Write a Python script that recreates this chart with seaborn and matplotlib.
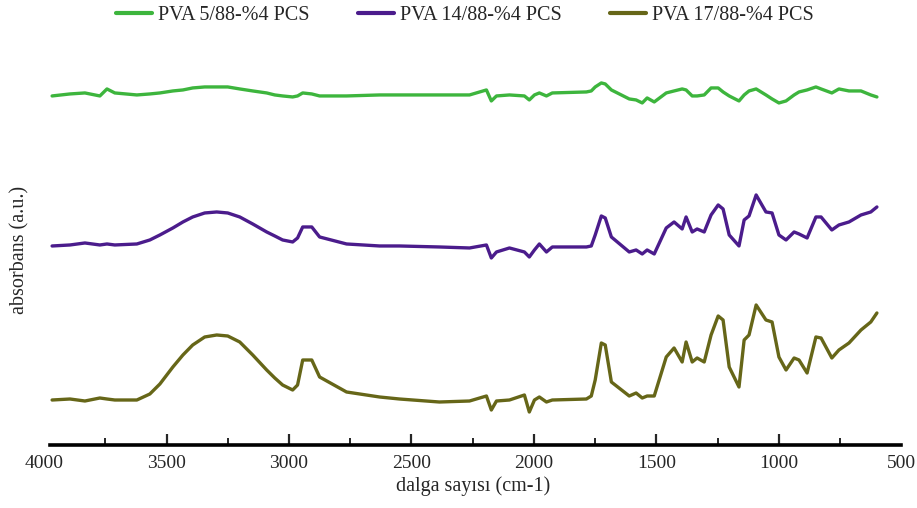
import numpy as np
import pandas as pd
import seaborn as sns
import matplotlib.pyplot as plt
from matplotlib.ticker import MultipleLocator

# wavenumber grid (cm-1)
wavenumber = [3967, 3894, 3833, 3772, 3743, 3711, 3621, 3568, 3527, 3474,
              3433, 3393, 3344, 3295, 3250, 3201, 3148, 3091, 3058, 3026,
              2985, 2965, 2944, 2907, 2875, 2765, 2630, 2549, 2386, 2263,
              2194, 2174, 2153, 2100, 2039, 2019, 1998, 1978, 1949, 1925,
              1786, 1766, 1750, 1725, 1709, 1684, 1611, 1583, 1558, 1538,
              1509, 1460, 1428, 1395, 1379, 1354, 1334, 1305, 1277, 1248,
              1228, 1203, 1163, 1142, 1122, 1093, 1053, 1028, 1000, 971,
              938, 918, 885, 849, 828, 784, 755, 714, 665, 625,
              600]

# stacked absorbance (a.u., offset spectra)
pva_5 = [3.54, 3.56, 3.57, 3.54, 3.61, 3.57, 3.55, 3.56, 3.57, 3.59,
         3.60, 3.62, 3.63, 3.63, 3.63, 3.61, 3.59, 3.57, 3.55, 3.54,
         3.53, 3.54, 3.57, 3.56, 3.54, 3.54, 3.55, 3.55, 3.55, 3.55,
         3.60, 3.49, 3.54, 3.55, 3.54, 3.50, 3.55, 3.57, 3.54, 3.57,
         3.58, 3.59, 3.63, 3.67, 3.66, 3.60, 3.51, 3.50, 3.47, 3.52,
         3.48, 3.57, 3.59, 3.61, 3.60, 3.54, 3.54, 3.55, 3.62, 3.62,
         3.58, 3.54, 3.49, 3.55, 3.59, 3.61, 3.55, 3.51, 3.47, 3.49,
         3.55, 3.58, 3.60, 3.63, 3.61, 3.57, 3.61, 3.59, 3.59, 3.55,
         3.53]

pva_14 = [2.04, 2.05, 2.07, 2.05, 2.06, 2.05, 2.06, 2.10, 2.15, 2.22,
          2.28, 2.33, 2.37, 2.38, 2.37, 2.33, 2.26, 2.18, 2.14, 2.10,
          2.08, 2.12, 2.23, 2.23, 2.13, 2.06, 2.04, 2.04, 2.03, 2.02,
          2.05, 1.92, 1.98, 2.02, 1.98, 1.93, 2.00, 2.06, 1.98, 2.03,
          2.03, 2.04, 2.15, 2.34, 2.32, 2.13, 1.98, 2.00, 1.96, 2.00,
          1.96, 2.22, 2.28, 2.21, 2.33, 2.18, 2.21, 2.18, 2.35, 2.45,
          2.41, 2.15, 2.04, 2.30, 2.34, 2.55, 2.38, 2.37, 2.15, 2.10,
          2.18, 2.16, 2.12, 2.33, 2.33, 2.20, 2.25, 2.28, 2.35, 2.38,
          2.43]

pva_17 = [0.50, 0.51, 0.49, 0.52, 0.51, 0.50, 0.50, 0.56, 0.66, 0.83,
          0.95, 1.05, 1.13, 1.15, 1.14, 1.08, 0.95, 0.80, 0.72, 0.65,
          0.60, 0.65, 0.90, 0.90, 0.73, 0.58, 0.53, 0.51, 0.48, 0.49,
          0.54, 0.40, 0.49, 0.50, 0.55, 0.38, 0.50, 0.53, 0.48, 0.50,
          0.51, 0.54, 0.70, 1.07, 1.05, 0.68, 0.54, 0.57, 0.52, 0.54,
          0.54, 0.93, 1.02, 0.88, 1.08, 0.88, 0.92, 0.88, 1.15, 1.34,
          1.30, 0.83, 0.63, 1.10, 1.15, 1.45, 1.30, 1.28, 0.93, 0.80,
          0.92, 0.90, 0.77, 1.13, 1.12, 0.92, 1.00, 1.07, 1.20, 1.28,
          1.37]

labels = ["PVA 5/88-%4 PCS", "PVA 14/88-%4 PCS", "PVA 17/88-%4 PCS"]
colors = ["#3db53d", "#4b1c8c", "#666618"]

# long form table for seaborn
df = pd.DataFrame({
    "wn": wavenumber * 3,
    "abs": pva_5 + pva_14 + pva_17,
    "sample": np.repeat(labels, len(wavenumber)),
})

sns.set_style("white")
plt.rcParams["font.family"] = ["Liberation Serif", "DejaVu Serif"]

fig = plt.figure(figsize=(9.17, 5.08), dpi=100)
ax = fig.add_axes([0.048, 0.124, 0.935, 0.758])

sns.lineplot(data=df, x="wn", y="abs", hue="sample", palette=colors,
             hue_order=labels, estimator=None, sort=False, linewidth=2.4, ax=ax)

handles, labs = ax.get_legend_handles_labels()
ax.get_legend().remove()
for h in handles:
    h.set_linewidth(3)
fig.legend(handles, labs, loc="center", bbox_to_anchor=(0.507, 1 - 15 / 508),
           ncol=3, frameon=False, fontsize=14.5, handlelength=1.8,
           handletextpad=0.3, columnspacing=2.4)

ax.set_xlim(4000, 500)
ax.set_ylim(0.05, 3.90)
ax.xaxis.set_major_locator(MultipleLocator(500))
ax.xaxis.set_minor_locator(MultipleLocator(250))
ax.tick_params(axis="x", which="major", direction="in", length=8, width=1.6,
               labelsize=14, pad=7, bottom=True)
ax.tick_params(axis="x", which="minor", direction="in", length=5, width=1.4,
               bottom=True)
ax.set_yticks([])

# no tick marks at the two ends, only labels
for t in ax.xaxis.get_major_ticks():
    if t.get_loc() in (4000, 500):
        t.tick1line.set_visible(False)

for side in ["left", "right", "top"]:
    ax.spines[side].set_visible(False)
ax.spines["bottom"].set_linewidth(2.6)
ax.spines["bottom"].set_color("black")
ax.spines["bottom"].set_bounds(3975, 500)

ax.set_xlabel("dalga sayısı (cm-1)", fontsize=14.5, labelpad=3)
ax.set_ylabel("absorbans (a.u.)", fontsize=14.5)
ax.yaxis.set_label_coords(-0.017, 0.506)

fig.savefig("out.png", dpi=100)
